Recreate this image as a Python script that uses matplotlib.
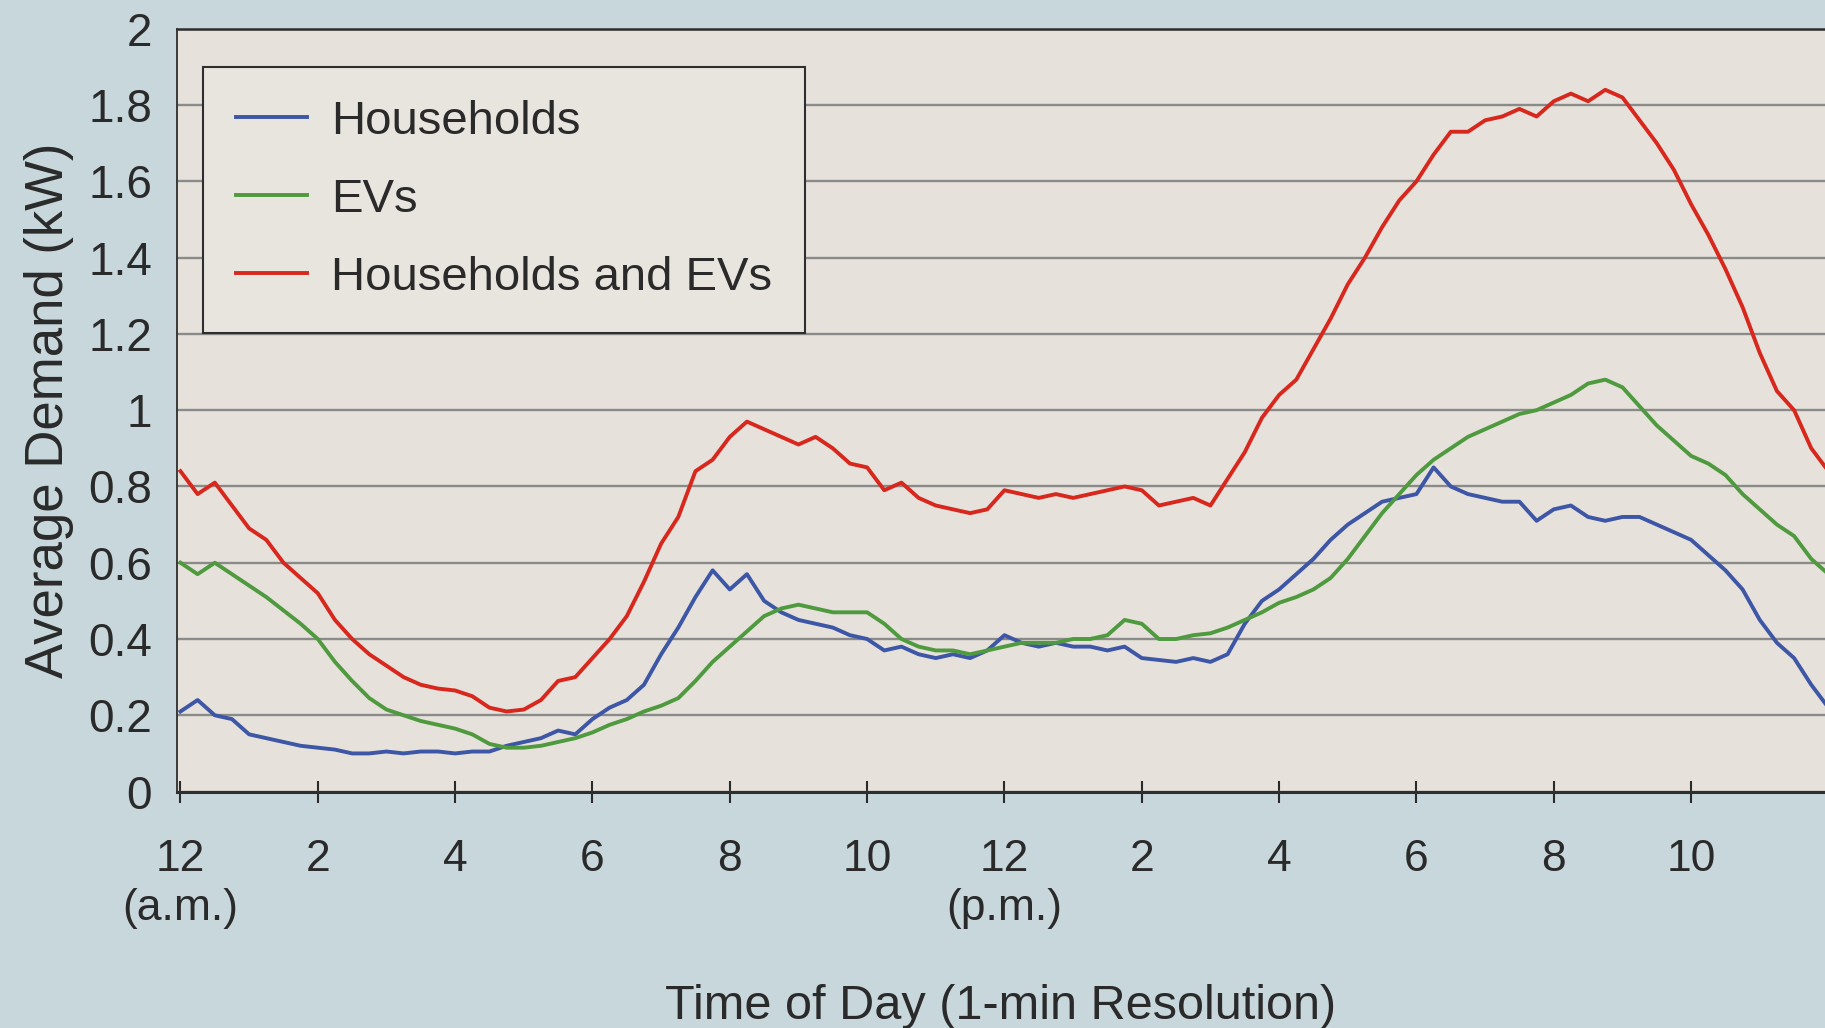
import numpy as np
import matplotlib
matplotlib.use("Agg")
import matplotlib.pyplot as plt

plt.rcParams['font.family'] = ['Liberation Sans', 'DejaVu Sans']

# time of day in hours, read every 15 min
hours = np.arange(0, 24.01, 0.25)

households = [
    0.21, 0.24, 0.20, 0.19, 0.15, 0.14, 0.13, 0.12, 0.115, 0.11, 0.10, 0.10,
    0.105, 0.10, 0.105, 0.105, 0.10, 0.105, 0.105, 0.12, 0.13, 0.14, 0.16, 0.15,
    0.19, 0.22, 0.24, 0.28, 0.36, 0.43, 0.51, 0.58, 0.53, 0.57, 0.50, 0.47,
    0.45, 0.44, 0.43, 0.41, 0.40, 0.37, 0.38, 0.36, 0.35, 0.36, 0.35, 0.37,
    0.41, 0.39, 0.38, 0.39, 0.38, 0.38, 0.37, 0.38, 0.35, 0.345, 0.34, 0.35,
    0.34, 0.36, 0.44, 0.50, 0.53, 0.57, 0.61, 0.66, 0.70, 0.73, 0.76, 0.77,
    0.78, 0.85, 0.80, 0.78, 0.77, 0.76, 0.76, 0.71, 0.74, 0.75, 0.72, 0.71,
    0.72, 0.72, 0.70, 0.68, 0.66, 0.62, 0.58, 0.53, 0.45, 0.39, 0.35, 0.28,
    0.22,
]

evs = [
    0.60, 0.57, 0.60, 0.57, 0.54, 0.51, 0.475, 0.44, 0.40, 0.34, 0.29, 0.245,
    0.215, 0.20, 0.185, 0.175, 0.165, 0.15, 0.125, 0.115, 0.115, 0.12, 0.13, 0.14,
    0.155, 0.175, 0.19, 0.21, 0.225, 0.245, 0.29, 0.34, 0.38, 0.42, 0.46, 0.48,
    0.49, 0.48, 0.47, 0.47, 0.47, 0.44, 0.40, 0.38, 0.37, 0.37, 0.36, 0.37,
    0.38, 0.39, 0.39, 0.39, 0.40, 0.40, 0.41, 0.45, 0.44, 0.40, 0.40, 0.41,
    0.415, 0.43, 0.45, 0.47, 0.495, 0.51, 0.53, 0.56, 0.61, 0.67, 0.73, 0.78,
    0.83, 0.87, 0.90, 0.93, 0.95, 0.97, 0.99, 1.00, 1.02, 1.04, 1.07, 1.08,
    1.06, 1.01, 0.96, 0.92, 0.88, 0.86, 0.83, 0.78, 0.74, 0.70, 0.67, 0.61,
    0.57,
]

combined = [
    0.84, 0.78, 0.81, 0.75, 0.69, 0.66, 0.60, 0.56, 0.52, 0.45, 0.40, 0.36,
    0.33, 0.30, 0.28, 0.27, 0.265, 0.25, 0.22, 0.21, 0.215, 0.24, 0.29, 0.30,
    0.35, 0.40, 0.46, 0.55, 0.65, 0.72, 0.84, 0.87, 0.93, 0.97, 0.95, 0.93,
    0.91, 0.93, 0.90, 0.86, 0.85, 0.79, 0.81, 0.77, 0.75, 0.74, 0.73, 0.74,
    0.79, 0.78, 0.77, 0.78, 0.77, 0.78, 0.79, 0.80, 0.79, 0.75, 0.76, 0.77,
    0.75, 0.82, 0.89, 0.98, 1.04, 1.08, 1.16, 1.24, 1.33, 1.40, 1.48, 1.55,
    1.60, 1.67, 1.73, 1.73, 1.76, 1.77, 1.79, 1.77, 1.81, 1.83, 1.81, 1.84,
    1.82, 1.76, 1.70, 1.63, 1.54, 1.46, 1.37, 1.27, 1.15, 1.05, 1.00, 0.90,
    0.84,
]

tick_pos = [0, 2, 4, 6, 8, 10, 12, 14, 16, 18, 20, 22]
tick_labels = ['12\n(a.m.)', '2', '4', '6', '8', '10', '12\n(p.m.)',
               '2', '4', '6', '8', '10']
y_ticks = [0, 0.2, 0.4, 0.6, 0.8, 1, 1.2, 1.4, 1.6, 1.8, 2]
y_labels = ['0', '0.2', '0.4', '0.6', '0.8', '1', '1.2', '1.4', '1.6', '1.8', '2']

fig = plt.figure(figsize=(18.25, 10.28), dpi=100, facecolor='#c8d7db')
ax = fig.add_axes([0.097, 0.230, 0.903, 0.742], facecolor='#e6e2db')

ax.plot(hours, households, color='#3d56a6', lw=2.8, label='Households')
ax.plot(hours, evs, color='#4f9a3f', lw=2.8, label='EVs')
ax.plot(hours, combined, color='#d8271d', lw=2.8, label='Households and EVs')

ax.set_xlim(-0.05, 23.95)
ax.set_ylim(0, 2)
ax.set_yticks(y_ticks)
ax.set_yticklabels(y_labels)
ax.set_xticks(tick_pos)
ax.set_xticklabels(tick_labels, linespacing=1.25)
ax.yaxis.grid(True, color='#8a8a8a', lw=1.7)
ax.set_axisbelow(True)

ax.tick_params(axis='x', direction='inout', length=16, width=1.5, pad=26,
               labelsize=32, colors='#2a2a2a')
ax.tick_params(axis='y', length=0, pad=18, labelsize=33, colors='#2a2a2a')

for side in ['left', 'top', 'bottom']:
    ax.spines[side].set_color('#2e2e2e')
ax.spines['left'].set_linewidth(1.3)
ax.spines['top'].set_linewidth(1.8)
ax.spines['bottom'].set_linewidth(2.2)
ax.spines['right'].set_visible(False)

ax.set_xlabel('Time of Day (1-min Resolution)', fontsize=35, color='#2a2a2a',
              labelpad=40)
ax.set_ylabel('Average Demand (kW)', fontsize=38, color='#2a2a2a', labelpad=10)

leg = ax.legend(loc='upper left', bbox_to_anchor=(0.016, 0.95), borderaxespad=0,
                fontsize=34, frameon=True, fancybox=False, handlelength=1.5,
                handletextpad=0.5, labelspacing=0.72, borderpad=0.7)
leg.get_frame().set_facecolor('#e8e5df')
leg.get_frame().set_edgecolor('#2e2e2e')
leg.get_frame().set_linewidth(1.5)
leg.get_frame().set_alpha(1)
for t in leg.get_texts():
    t.set_color('#2a2a2a')

fig.savefig('out.png', dpi=100, facecolor=fig.get_facecolor())
